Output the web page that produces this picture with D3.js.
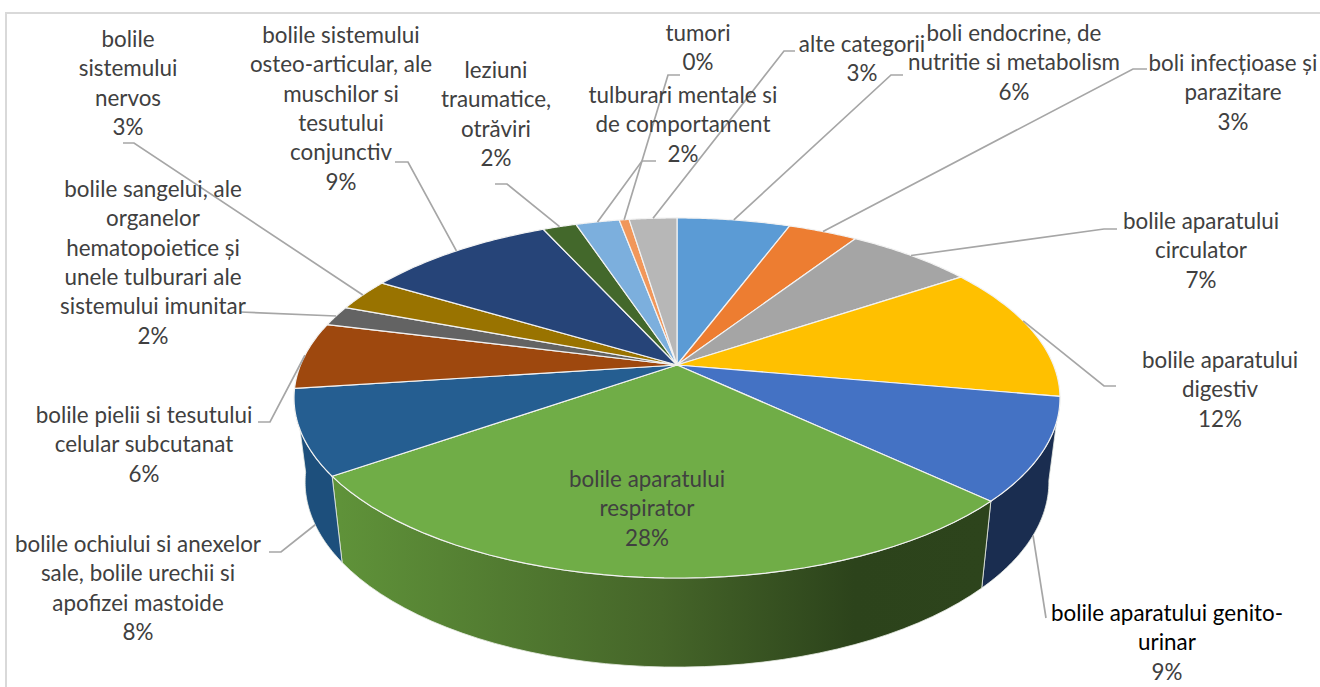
<!DOCTYPE html>
<html><head><meta charset="utf-8">
<script src="https://cdn.jsdelivr.net/npm/d3@7"></script>
<style>html,body{margin:0;padding:0;background:#fff}svg{display:block}</style>
</head><body><svg id="c" width="1320" height="687"></svg>
<script>
const categories = ["boli endocrine, de nutritie si metabolism","boli infecțioase și parazitare","bolile aparatului circulator","bolile aparatului digestiv","bolile aparatului genito-urinar","bolile aparatului respirator","bolile ochiului si anexelor sale, bolile urechii si apofizei mastoide","bolile pielii si tesutului celular subcutanat","bolile sangelui, ale organelor hematopoietice și unele tulburari ale sistemului imunitar","bolile sistemului nervos","bolile sistemului osteo-articular, ale muschilor si tesutului conjunctiv","leziuni traumatice, otrăviri","tulburari mentale si de comportament","tumori","alte categorii"];
const values = [5.7,3.5,6.4,12.2,9.2,28.3,7.6,6.0,1.8,2.9,9.6,1.7,2.2,0.5,2.4];
const percentLabels = ["6%","3%","7%","12%","9%","28%","8%","6%","2%","3%","9%","2%","2%","0%","3%"];
const topColors = ["#5B9BD5","#ED7D31","#A5A5A5","#FFC000","#4472C4","#70AD47","#255E91","#9E480E","#636363","#997300","#264478","#43682B","#7CAFDD","#F1975A","#B7B7B7"];
const sideColors = {4:"#1a2d50",6:"#1d4f7c"};

// label layout: text lines, centre x, first-line centre y
const labelLines = [
 ["boli endocrine, de","nutritie si metabolism"],["boli infecțioase și","parazitare"],["bolile aparatului","circulator"],["bolile aparatului","digestiv"],["bolile aparatului genito-","urinar"],["bolile aparatului","respirator"],["bolile ochiului si anexelor","sale, bolile urechii si","apofizei mastoide"],["bolile pielii si tesutului","celular subcutanat"],["bolile sangelui, ale","organelor","hematopoietice și","unele tulburari ale","sistemului imunitar"],["bolile","sistemului","nervos"],["bolile sistemului","osteo-articular, ale","muschilor si","tesutului","conjunctiv"],["leziuni","traumatice,","otrăviri"],["tulburari mentale si","de comportament"],["tumori"],["alte categorii"]];
const labelX = [1014,1233,1201,1220,1167,647,138,144,153,128,341,496,683,698,862];
const labelY = [33,63,221,360,613,479,544,415,189,39,35,70,95,33,44];
// leader layout: start, elbow, and position (0..1) of the attachment inside the slice
const leaderStart = [[903,75],[1147,69],[1117,229],[1116,386],null,null,[269,552],[258,422],[240,312],[123,143],[395,162],[495,184],[656,161],[680,75],[795,51]];
const leaderElbow = [[891,75],[1133,69],[1104,229],[1104,386],null,null,[281,552],[270,422],[240,312],[134,143],[408,162],[507,184],[642,161],[668,75],[784,51]];
const leaderFrac  = [.5,.5,.5,.42,null,null,.5,.5,.5,.5,.5,.5,.5,.5,.5];

// perspective projection of the pie disc
const cx=677, cy=365, k=.1833, A=174, B=376.5;
const upper = t => { const s=Math.sin(t), c=Math.cos(t), d=1+k*c; return [cx+B*s/d, cy-A*c/d]; };
const lower = t => { const p=upper(t); return [cx+(p[0]-cx)*.971, 482+(p[1]-398)*1.028]; };
const samples = (a,b) => d3.range(0,41).map(i=>a+(b-a)*i/40);

const svg = d3.select("#c");
const FONT = "Lato, sans-serif";
const defs = svg.append("defs");
const grad = defs.append("linearGradient").attr("id","g").attr("gradientUnits","userSpaceOnUse")
  .attr("x1",340).attr("x2",983).attr("y1",0).attr("y2",0);
[[0,"#5f9239"],[.5,"#456529"],[.8,"#2c431b"],[1,"#2d441c"]].forEach(d=>grad.append("stop").attr("offset",d[0]).attr("stop-color",d[1]));

svg.append("path").attr("d","M1320,13H6V687").attr("fill","none").attr("stroke","#d9d9d9").attr("stroke-width",2);

const arcs = d3.pie().sort(null)(values);
const line = d3.line();

// side walls
[4,5,6].forEach(i=>{
  const a=arcs[i], pts=samples(a.startAngle,a.endAngle);
  svg.append("path").attr("d",line(pts.map(upper).concat(pts.slice().reverse().map(lower)))+"Z")
    .attr("fill", i===5?"url(#g)":sideColors[i]).attr("stroke", "#e8ece4").attr("stroke-width",.8);
});
// top faces
arcs.forEach((a,i)=>{
  svg.append("path").attr("d",line([[cx,cy]].concat(samples(a.startAngle,a.endAngle).map(upper)))+"Z")
    .attr("fill",topColors[i]).attr("stroke","#f2f2f2").attr("stroke-width",1.2).attr("stroke-linejoin","round");
});
// leaders
arcs.forEach((a,i)=>{
  if(!leaderStart[i]) return;
  const end = upper(a.startAngle+(a.endAngle-a.startAngle)*leaderFrac[i]);
  const e2 = i===6 ? lower(a.startAngle+(a.endAngle-a.startAngle)*.42) : end;
  svg.append("path").attr("d",line([leaderStart[i],leaderElbow[i],e2])).attr("fill","none").attr("stroke","#a6a6a6").attr("stroke-width",1.7);
});
{ const a=arcs[4];
  const end=lower(a.startAngle+(a.endAngle-a.startAngle)*.5);
  svg.append("path").attr("d",line([[1046,618],end])).attr("fill","none").attr("stroke","#a6a6a6").attr("stroke-width",1.7);
}
// labels
const STEP=29.4;
arcs.forEach((a,i)=>{
  const t=svg.append("text").attr("text-anchor","middle").attr("font-family",FONT).attr("font-size",22.4)
    .attr("fill",i===4?"#000":"#404040");
  labelLines[i].concat([percentLabels[i]]).forEach((l,j)=>{
    t.append("tspan").attr("x",labelX[i]).attr("y",labelY[i]+j*STEP).attr("dy",".35em").text(l)
     .attr("fill", (i===4&&j===2)?"#404040":null);
  });
});
</script></body></html>
